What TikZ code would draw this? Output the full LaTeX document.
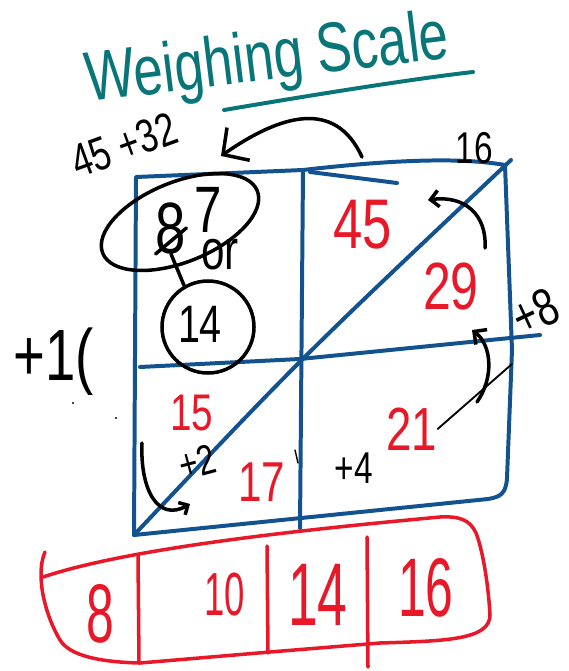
\documentclass[tikz,border=0pt]{standalone}
\usepackage{fontspec}
\newfontfamily\hand[FakeStretch=0.75]{Liberation Sans}
\newfontfamily\handn[FakeStretch=0.6]{Liberation Sans}
\usetikzlibrary{arrows.meta,shapes.geometric}
\definecolor{gridblue}{RGB}{18,82,142}
\definecolor{inkred}{RGB}{232,24,40}
\definecolor{inkteal}{RGB}{8,118,120}
\begin{document}
\begin{tikzpicture}[x=0.03cm, y=-0.03cm, line cap=round, line join=round,
  gridline/.style={draw=gridblue, line width=3.4pt},
  ink/.style={draw=black, line width=3pt},
  barline/.style={draw=inkred, line width=3pt},
  num/.style={font=\hand\fontsize{#1}{#1}\selectfont, inner sep=0pt},
  rednum/.style={num=#1, text=inkred},
  barnum/.style={font=\handn\fontsize{#1}{#1}\selectfont, inner sep=0pt, text=inkred}]
  \useasboundingbox (0,0) rectangle (569,671);
  % title
  \node[num=60, text=inkteal, anchor=base west, rotate=7] (title) at (88,102) {Weighing Scale};
  \coordinate (ul1) at (224,110); \coordinate (ul2) at (473,72);
  \draw[draw=inkteal, line width=3.4pt] (ul1) .. controls (330,92) and (420,78) .. (ul2);
  % grid
  \coordinate (BL) at (134,535); \coordinate (TL) at (136,177); \coordinate (TM) at (303,170);
  \coordinate (TR) at (505,165); \coordinate (BM) at (300,528); \coordinate (ML) at (140,367);
  \coordinate (MR) at (540,335); \coordinate (C) at (300,359); \coordinate (DG) at (511,160);
  \draw[gridline] (BL) -- (TL) -- (TM) .. controls (390,160) and (460,157) .. (TR) -- (512,350)
    -- (507,478) .. controls (506,494) and (500,497) .. (488,499) -- (380,510) -- cycle;
  \draw[gridline] (TM) -- (BM);
  \draw[gridline] (ML) -- (C) -- (MR);
  \draw[gridline] (BL) .. controls (C) .. (DG);
  \draw[gridline] (310,172) -- (397,183);
  % numbers in the cells
  \foreach \n/\x/\y/\s in {45/363/225/60, 29/451/287/57, 21/412/429/52, 17/262/482/48, 15/192/413/44}
    \node[rednum=\s] (n\n) at (\x,\y) {\n};
  \foreach \nm/\t/\x/\y/\s/\r in {t16/16/474/148/38/0, p8/+8/535/312/45/25, p4/+4/354/468/38/0,
      p2/+2/197/462/36/15, p1/+1(/54/362/62/0, sum/45 +32/124/145/40/20}
    \node[num=\s, rotate=\r] (\nm) at (\x,\y) {\t};
  % 87 crossed out, 14 circled
  \node[ellipse, draw, line width=3pt, rotate=22, minimum width=5cm, minimum height=2.4cm, inner sep=0pt] (old) at (180,222) {};
  \node[num=62] (eight) at (171,228) {8};
  \node[num=56] (seven) at (208,210) {7};
  \draw[ink] (eight.south west) -- (eight.east);
  \node[num=48] (or) at (220,255) {or};
  \node[circle, draw, line width=3pt, minimum size=2.76cm, inner sep=0pt] (new) at (208,327) {};
  \node[num=45] (fourteen) at (200,324) {14};
  \draw[ink] (eight.south) -- (new.120);
  % arrows
  \coordinate (a1) at (362,157); \coordinate (a1e) at (221,156);
  \draw[ink, -{Straight Barb[length=16pt, width=34pt]}] (a1) .. controls (335,98) and (280,115) .. (a1e);
  \coordinate (a2) at (485,248); \coordinate (a2e) at (428,200);
  \draw[ink, -{Straight Barb[length=7pt, width=14pt]}] (a2) .. controls (487,215) and (465,195) .. (a2e);
  \coordinate (rim) at (512,364);
  \draw[ink, line width=1.6pt] (n21.east) -- (rim);
  \coordinate (a3) at (477,402); \coordinate (a3e) at (472,330);
  \draw[ink, -{Straight Barb[length=8pt, width=16pt]}] (a3) .. controls (494,378) and (492,345) .. (a3e);
  \coordinate (a4) at (142,443); \coordinate (a4e) at (190,504);
  \draw[ink, -{Straight Barb[length=6pt, width=12pt]}] (a4) .. controls (140,490) and (158,522) .. (a4e);
  \draw[ink, line width=1.2pt] (295,450) -- (298,463);
  \fill (73,403) circle (1pt); \fill (116,418) circle (1pt);
  % weights
  \draw[barline] (45,552) .. controls (35,575) and (45,615) .. (60,640) .. controls (70,656) and (100,662) .. (140,663)
    -- (270,652) -- (380,643) .. controls (445,641) and (490,640) .. (490,615) .. controls (488,580) and (482,548) .. (476,533)
    .. controls (470,520) and (460,516) .. (440,517) .. controls (300,530) and (130,548) .. (43,577);
  \foreach \x/\ya/\yb in {138/555/663, 267/546/653, 367/537/667}
    \draw[barline] (\x,\ya) -- (\x+1,\yb);
  \foreach \v/\x/\y/\s in {8/100/614/71, 10/225/595/52, 14/318/595/76, 16/426/588/71}
    \node[barnum=\s] (b\v) at (\x,\y) {\v};
\end{tikzpicture}
\end{document}
